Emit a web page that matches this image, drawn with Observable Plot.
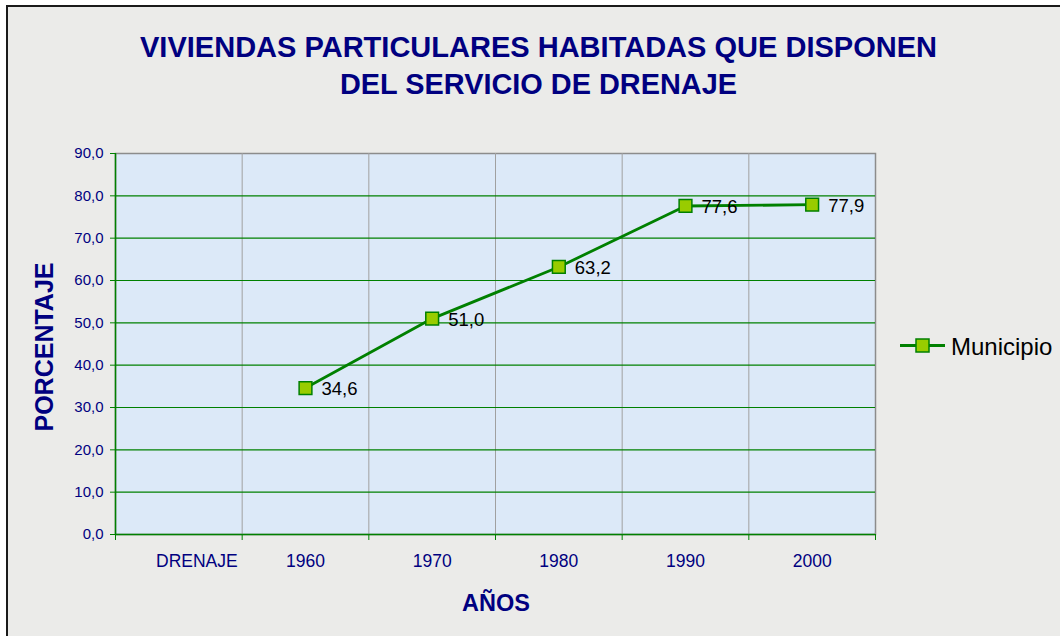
<!DOCTYPE html>
<html>
<head>
<meta charset="utf-8">
<script src="https://cdn.jsdelivr.net/npm/d3@7"></script>
<script src="https://cdn.jsdelivr.net/npm/@observablehq/plot@0.6"></script>
<style>
  html, body { margin: 0; padding: 0; background: #ffffff; }
  #chart svg { display: block; }
</style>
</head>
<body>
<div id="chart"></div>
<script>
const categories = ["DRENAJE", "1960", "1970", "1980", "1990", "2000"];
const years = ["1960", "1970", "1980", "1990", "2000"];
const values = [34.6, 51.0, 63.2, 77.6, 77.9];
const yTicks = [0, 10, 20, 30, 40, 50, 60, 70, 80, 90];
const seriesName = "Municipio";
const titleLines = ["VIVIENDAS PARTICULARES HABITADAS QUE DISPONEN", "DEL SERVICIO DE DRENAJE"];
const yTitle = "PORCENTAJE";
const xTitle = "AÑOS";

const data = years.map((y, i) => ({x: categories.indexOf(y) + 0.5, y: values[i]}));
const fmt = d => d.toFixed(1).replace(".", ",");
const FONT = "'Liberation Sans', Arial, sans-serif";
const NAVY = "#000080";
const GREEN = "#008000";
const catLabel = v => categories[Math.round(v - 0.5)];

const chart = Plot.plot({
  width: 1060,
  height: 636,
  marginLeft: 115,
  marginRight: 185,
  marginTop: 153,
  marginBottom: 102,
  style: {fontFamily: FONT, background: "transparent", overflow: "visible"},
  x: {type: "linear", domain: [0, categories.length]},
  y: {domain: [0, 90]},
  marks: [
    Plot.frame({fill: "#dce9f8", stroke: "#8c8c8c", strokeWidth: 1.5}),
    Plot.ruleX(d3.range(1, categories.length), {stroke: "#a0a0a0", strokeWidth: 1}),
    Plot.ruleY(yTicks.slice(1, -1), {stroke: GREEN, strokeWidth: 1.2}),
    Plot.ruleX([0], {stroke: GREEN, strokeWidth: 1.5}),
    Plot.ruleY([0], {stroke: GREEN, strokeWidth: 1.5}),
    Plot.axisY({ticks: yTicks, tickFormat: fmt, tickSize: 5, tickPadding: 7, stroke: GREEN, fill: NAVY, fontSize: 15, label: null}),
    Plot.axisX({ticks: d3.range(0, categories.length + 1), tickFormat: () => "", tickSize: 6, stroke: GREEN, label: null}),
    Plot.axisX({ticks: [0.5], tickFormat: catLabel, tickSize: 0, tickPadding: 20, dx: 18, fill: NAVY, fontSize: 17.5, label: null}),
    Plot.axisX({ticks: categories.slice(1).map((c, i) => i + 1.5), tickFormat: catLabel, tickSize: 0, tickPadding: 20, fill: NAVY, fontSize: 17.5, label: null}),
    Plot.line(data, {x: "x", y: "y", stroke: GREEN, strokeWidth: 2.8}),
    Plot.dot(data, {x: "x", y: "y", symbol: "square", r: 7.2, fill: "#99cc00", stroke: GREEN, strokeWidth: 1.5}),
    Plot.text(data, {x: "x", y: "y", text: d => fmt(d.y), textAnchor: "start", dx: 16, dy: 1, fontSize: 18.5, fill: "#000000"})
  ]
});

const svg = d3.select(chart);
// outer chart area background with border
svg.insert("rect", ":first-child")
  .attr("x", 7).attr("y", 6).attr("width", 1060).attr("height", 640)
  .attr("fill", "#ebebe9").attr("stroke", "#1a1a1a").attr("stroke-width", 2);

// title
titleLines.forEach((t, i) => {
  svg.append("text")
    .attr("x", 538.5).attr("y", i === 0 ? 57 : 94)
    .attr("text-anchor", "middle")
    .attr("font-family", FONT).attr("font-weight", "bold")
    .attr("font-size", 29).attr("fill", NAVY)
    .attr("textLength", i === 0 ? 797 : 397)
    .attr("lengthAdjust", "spacingAndGlyphs")
    .text(t);
});

// axis titles
svg.append("text")
  .attr("transform", "translate(53,347) rotate(-90)")
  .attr("text-anchor", "middle")
  .attr("font-family", FONT).attr("font-weight", "bold")
  .attr("font-size", 25).attr("fill", NAVY)
  .text(yTitle);
svg.append("text")
  .attr("x", 496).attr("y", 611)
  .attr("text-anchor", "middle")
  .attr("font-family", FONT).attr("font-weight", "bold")
  .attr("font-size", 23.5).attr("fill", NAVY)
  .text(xTitle);

// legend
const lg = svg.append("g");
lg.append("line").attr("x1", 900).attr("x2", 945).attr("y1", 345.5).attr("y2", 345.5)
  .attr("stroke", GREEN).attr("stroke-width", 2.8);
lg.append("rect").attr("x", 916).attr("y", 339).attr("width", 13).attr("height", 13)
  .attr("fill", "#99cc00").attr("stroke", GREEN).attr("stroke-width", 1.5);
lg.append("text").attr("x", 951).attr("y", 355)
  .attr("text-anchor", "start")
  .attr("font-family", FONT).attr("font-size", 24).attr("fill", "#000000")
  .text(seriesName);

document.getElementById("chart").appendChild(chart);
</script>
</body>
</html>
